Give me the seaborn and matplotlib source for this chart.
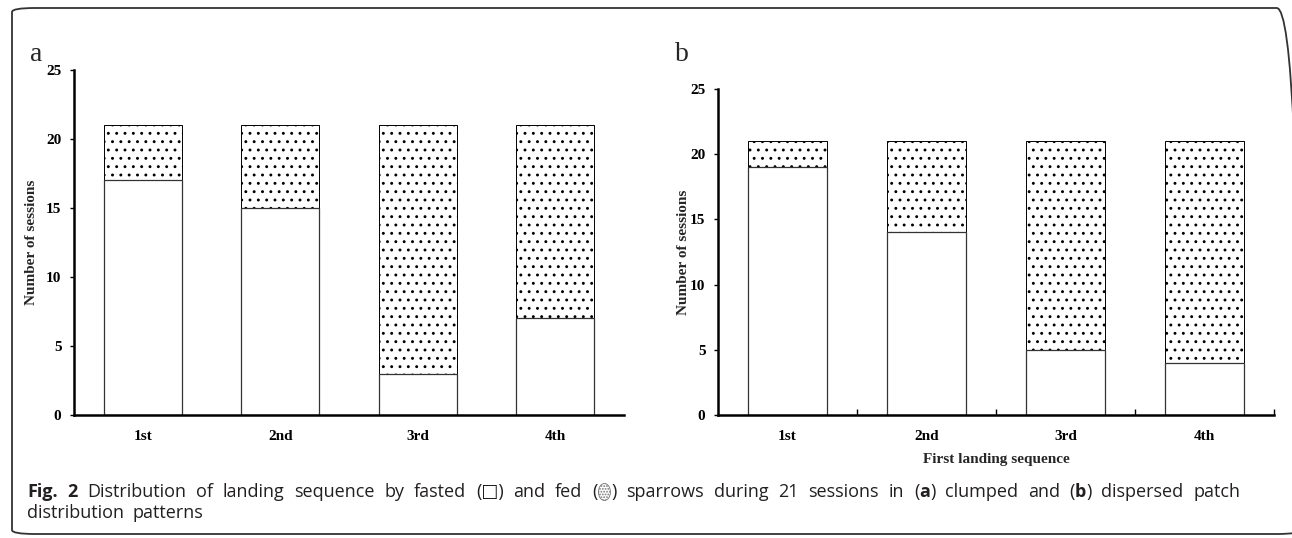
import numpy as np
import pandas as pd
import seaborn as sns
import matplotlib.pyplot as plt
from matplotlib.patches import FancyBboxPatch, Ellipse

# ---- data ----
sequence = ["1st", "2nd", "3rd", "4th"]
fasted_a = [17, 15, 3, 7]     # clumped patches
fed_a = [4, 6, 18, 14]
fasted_b = [19, 14, 5, 4]     # dispersed patches
fed_b = [2, 7, 16, 17]
y_ticks = [0, 5, 10, 15, 20, 25]

sns.set_theme(style="white")
plt.rcParams["font.family"] = ["Liberation Serif", "DejaVu Serif"]
plt.rcParams["hatch.linewidth"] = 0.9

W, H = 1292, 538
fig = plt.figure(figsize=(W / 100, H / 100), dpi=100)
fig.patch.set_facecolor("white")


def px_axes(x0, y0, x1, y1):
    # pixel box (top-left origin) -> figure fraction axes
    return fig.add_axes([x0 / W, 1 - y1 / H, (x1 - x0) / W, (y1 - y0) / H])


ax_a = px_axes(74, 70, 624, 415)
ax_b = px_axes(718, 89, 1274, 415)

tick_font = dict(family="Liberation Serif", weight="bold", size=11)

for ax, fasted, fed in [(ax_a, fasted_a, fed_a), (ax_b, fasted_b, fed_b)]:
    df = pd.DataFrame({"seq": sequence, "fasted": fasted, "fed": fed})
    df["total"] = df["fasted"] + df["fed"]
    # fed sparrows stacked on top (dotted), fasted at the bottom (white)
    sns.barplot(data=df, x="seq", y="total", color="white", edgecolor="black",
                linewidth=0.7, hatch="..", width=0.57, saturation=1,
                errorbar=None, ax=ax)
    sns.barplot(data=df, x="seq", y="fasted", color="white", edgecolor="#333333",
                linewidth=0.9, width=0.57, saturation=1, errorbar=None, ax=ax)
    ax.set_ylim(0, 25)
    ax.set_xlim(-0.5, 3.5)
    ax.set_yticks(y_ticks)
    ax.set_yticklabels([str(t) for t in y_ticks], fontdict=tick_font)
    ax.set_xticks(range(len(sequence)))
    ax.set_xticklabels(sequence, fontdict=tick_font)
    for s in ["top", "right"]:
        ax.spines[s].set_visible(False)
    for s in ["left", "bottom"]:
        ax.spines[s].set_color("black")
        ax.spines[s].set_linewidth(1.8)
    ax.tick_params(axis="y", direction="out", length=3, width=1, pad=6, colors="black", left=True)
    ax.tick_params(axis="x", which="major", length=0, pad=11, colors="black")
    ax.set_xlabel("")
    ax.set_ylabel("Number of sessions", fontdict=tick_font)
    ax.patch.set_alpha(0)

ax_a.yaxis.set_label_coords((38 - 74) / 550, 0.5)
ax_b.yaxis.set_label_coords((690 - 718) / 556, 0.5)

# boundary ticks on panel b
ax_b.set_xticks([0.5, 1.5, 2.5, 3.5], minor=True)
ax_b.tick_params(axis="x", which="minor", direction="in", length=4, width=1,
                 bottom=True, colors="black")
ax_b.set_xlabel("First landing sequence", fontdict=tick_font, labelpad=7)

fig.text(36 / W, 1 - 55 / H, "a", fontsize=20, family="Liberation Serif",
         ha="center", va="center")
fig.text(682 / W, 1 - 55 / H, "b", fontsize=20, family="Liberation Serif",
         ha="center", va="center")

# rounded frame round the figure
frame = FancyBboxPatch((12 / W, 1 - 534 / H), (1300 - 12) / W, (534 - 8) / H,
                       boxstyle="round,pad=0,rounding_size=0.018",
                       transform=fig.transFigure, facecolor="none",
                       edgecolor="#333333", linewidth=1.3, clip_on=False,
                       mutation_aspect=H / W)
fig.patches.append(frame)

# ---- caption (justified first line) ----
CAP_SIZE = 13
cap_color = "#231f20"
cap_fam = ["Open Sans", "DejaVu Sans"]
renderer = fig.canvas.get_renderer()

line1 = [
    [("Fig.", True)], [("2", True)], [("Distribution", False)], [("of", False)],
    [("landing", False)], [("sequence", False)], [("by", False)], [("fasted", False)],
    [("(\u25a1)", False)], [("and", False)], [("fed", False)],
    [("(", False), ("ICON", None), (")", False)],
    [("sparrows", False)], [("during", False)], [("21", False)], [("sessions", False)],
    [("in", False)], [("(", False), ("a", True), (")", False)], [("clumped", False)],
    [("and", False)], [("(", False), ("b", True), (")", False)], [("dispersed", False)],
    [("patch", False)],
]
line2 = [[("distribution", False)], [("patterns", False)]]
ICON_W = 14


def run_width(txt, bold):
    if bold is None:
        return ICON_W
    t = fig.text(0, 0, txt, fontsize=CAP_SIZE, family=cap_fam,
                 weight="bold" if bold else "normal")
    w = t.get_window_extent(renderer).width
    t.remove()
    return w


def draw_line(words, x_start, y_px, x_end=None, stretch=1.0):
    widths = [[run_width(t, b) for t, b in w] for w in words]
    word_w = [sum(ws) for ws in widths]
    space = (run_width("a a", False) - 2 * run_width("a", False)) * stretch
    if x_end is not None:
        space = (x_end - x_start - sum(word_w)) / (len(words) - 1)
    x = x_start
    for w, ws in zip(words, widths):
        for (t, b), rw in zip(w, ws):
            if b is None:
                ic = Ellipse(((x + rw / 2) / W, 1 - (y_px - 5) / H), (rw - 2) / W, 17 / H,
                             transform=fig.transFigure, facecolor="white",
                             edgecolor="#777777", linewidth=0.6, hatch="......")
                fig.patches.append(ic)
            else:
                fig.text(x / W, 1 - y_px / H, t, fontsize=CAP_SIZE, family=cap_fam,
                         weight="bold" if b else "normal", color=cap_color,
                         ha="left", va="baseline")
            x += rw
        x += space


draw_line(line1, 27, 497, x_end=1240)
draw_line(line2, 27, 518, stretch=1.8)

fig.savefig("out.png", dpi=100)
